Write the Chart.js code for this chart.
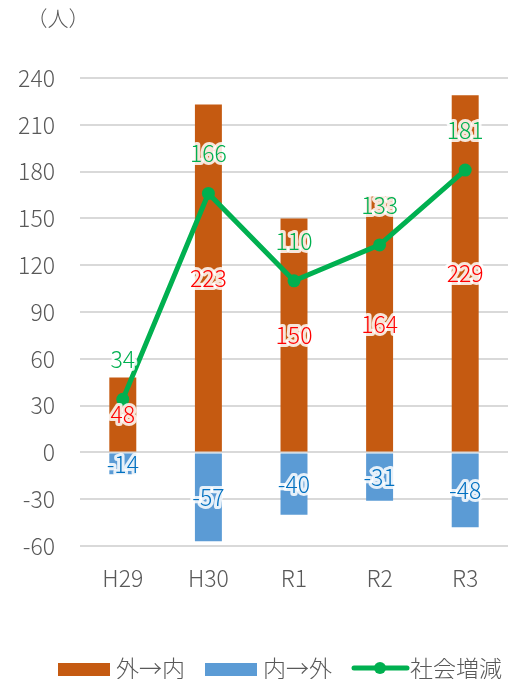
<!DOCTYPE html>
<html><head><meta charset="utf-8">
<script src="https://cdn.jsdelivr.net/npm/chart.js@4"></script>
<style>html,body{margin:0;padding:0;background:#fff}#wrap{width:520px;height:679px}</style>
</head><body><div id="wrap"><canvas id="c" width="520" height="679"></canvas></div>
<script>
const categories = ['H29', 'H30', 'R1', 'R2', 'R3'];
const inflow = [48, 223, 150, 164, 229];       // 外→内
const outflow = [-14, -57, -40, -31, -48];     // 内→外
const netChange = [34, 166, 110, 133, 181];    // 社会増減
const yTickValues = [-60, -30, 0, 30, 60, 90, 120, 150, 180, 210, 240];
const seriesNames = ['外→内', '内→外', '社会増減'];
const unitLabel = '（人）';

const FONT = '"Noto Sans CJK JP","Noto Sans",sans-serif';
const FS = 23;
const FW = '300';
const GRAY = '#595959';
const C_OR = '#C55A11', C_BL = '#5B9BD5', C_GR = '#00B050';

const labelPlugin = {
  id: 'vlabels',
  afterDatasetsDraw(chart) {
    const ctx = chart.ctx;
    ctx.save();
    ctx.font = FW + ' ' + FS + 'px ' + FONT;
    ctx.textAlign = 'center';
    ctx.textBaseline = 'middle';
    chart.data.datasets.forEach((ds, i) => {
      const meta = chart.getDatasetMeta(i);
      meta.data.forEach((el, j) => {
        const v = String(ds.data[j]);
        const x = el.x;
        const y = ds.type === 'line' ? el.y - 40 : (el.y + el.base) / 2;
        ctx.lineJoin = 'round';
        ctx.lineWidth = 6;
        ctx.strokeStyle = 'rgba(255,255,255,0.85)';
        ctx.strokeText(v, x, y);
        ctx.fillStyle = ds.labelColor;
        ctx.fillText(v, x, y);
      });
    });
    ctx.restore();
  }
};

const extrasPlugin = {
  id: 'extras',
  afterDraw(chart) {
    const ctx = chart.ctx;
    ctx.save();
    ctx.fillStyle = GRAY;
    ctx.font = FW + ' 21px ' + FONT;
    ctx.textAlign = 'center';
    ctx.textBaseline = 'middle';
    ctx.fillText(unitLabel, 58, 18);

    // legend
    ctx.font = FW + ' ' + FS + 'px ' + FONT;
    ctx.textAlign = 'left';
    const ds = chart.data.datasets;
    const items = [ds[1], ds[2], ds[0]];
    const sw = 52, g1 = 6, g2 = 20;
    let total = 0;
    items.forEach((it, k) => { total += sw + g1 + ctx.measureText(it.label).width + (k < items.length - 1 ? g2 : 0); });
    let x = 280 - total / 2;
    const y = 668;
    items.forEach((it) => {
      if (it.type === 'line') {
        ctx.strokeStyle = it.borderColor;
        ctx.lineWidth = 5;
        ctx.lineCap = 'round';
        ctx.beginPath(); ctx.moveTo(x + 2, y); ctx.lineTo(x + sw + 3, y); ctx.stroke();
        ctx.fillStyle = it.borderColor;
        ctx.beginPath(); ctx.arc(x + sw / 2 + 2, y, 6, 0, Math.PI * 2); ctx.fill();
      } else {
        ctx.fillStyle = it.backgroundColor;
        ctx.fillRect(x, y - 5, sw, 13);
      }
      x += sw + g1;
      ctx.fillStyle = GRAY;
      ctx.fillText(it.label, x, y);
      x += ctx.measureText(it.label).width + g2;
    });
    ctx.restore();
  }
};

new Chart(document.getElementById('c'), {
  data: {
    labels: categories,
    datasets: [
      { type: 'line', label: seriesNames[2], data: netChange, borderColor: C_GR, backgroundColor: C_GR,
        borderWidth: 5, pointRadius: 6.5, pointBackgroundColor: C_GR, pointBorderWidth: 0, stack: 'line', order: 0,
        tension: 0, labelColor: C_GR },
      { type: 'bar', label: seriesNames[0], data: inflow, backgroundColor: C_OR, stack: 'bars', order: 1,
        barPercentage: 0.315, categoryPercentage: 1, labelColor: '#FF0000' },
      { type: 'bar', label: seriesNames[1], data: outflow, backgroundColor: C_BL, stack: 'bars', order: 1,
        barPercentage: 0.315, categoryPercentage: 1, labelColor: '#0070C0' }
    ]
  },
  options: {
    responsive: false,
    animation: false,
    layout: { padding: { left: 0, right: 12, top: 78, bottom: 88 } },
    plugins: { legend: { display: false }, tooltip: { enabled: false } },
    scales: {
      x: {
        stacked: true,
        grid: { display: false, drawTicks: false },
        border: { display: false },
        ticks: { color: GRAY, font: { family: FONT, size: FS, weight: FW }, padding: 18 },
        afterFit(s) { s.height = 45; }
      },
      y: {
        stacked: true,
        min: -60, max: 240,
        afterBuildTicks(s) { s.ticks = yTickValues.map(v => ({ value: v })); },
        grid: { color: '#D9D9D9', lineWidth: 2, drawTicks: false },
        border: { display: false },
        ticks: { color: GRAY, font: { family: FONT, size: FS, weight: FW }, padding: 25 },
        afterFit(s) { s.width = 80; }
      }
    }
  },
  plugins: [labelPlugin, extrasPlugin]
});
</script>
</body></html>
